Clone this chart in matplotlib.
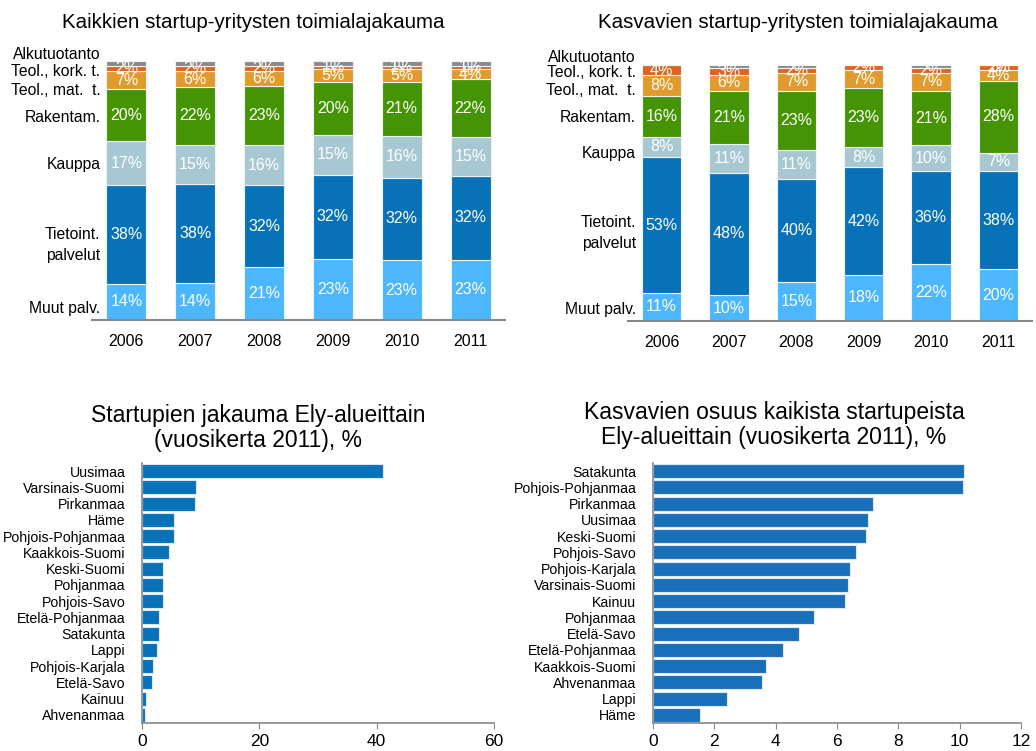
import numpy as np
import matplotlib
matplotlib.use("Agg")
import matplotlib.pyplot as plt

plt.rcParams['font.family'] = ['Liberation Sans', 'DejaVu Sans']

# --- data -------------------------------------------------------------
years = ['2006', '2007', '2008', '2009', '2010', '2011']
sectors = ['Muut palv.', 'Tietoint.\npalvelut', 'Kauppa', 'Rakentam.',
           'Teol., mat.  t.', 'Teol., kork. t.', 'Alkutuotanto']

# all startups (percent), bottom to top
all_muut = [14, 14, 21, 23, 23, 23]
all_tiet = [38, 38, 32, 32, 32, 32]
all_kaup = [17, 15, 16, 15, 16, 15]
all_rak = [20, 22, 23, 20, 21, 22]
all_mat = [7, 6, 6, 5, 5, 4]
all_kork = [2, 2, 2, 1, 1, 1]
all_alku = [2, 2, 2, 2, 2, 2]

# growing startups (percent)
gr_muut = [11, 10, 15, 18, 22, 20]
gr_tiet = [53, 48, 40, 42, 36, 38]
gr_kaup = [8, 11, 11, 8, 10, 7]
gr_rak = [16, 21, 23, 23, 21, 28]
gr_mat = [8, 6, 7, 7, 7, 4]
gr_kork = [4, 3, 2, 2, 2, 2]
gr_alku = [0, 1, 1, 0, 1, 0]

regions1 = ['Uusimaa', 'Varsinais-Suomi', 'Pirkanmaa', 'Häme', 'Pohjois-Pohjanmaa',
            'Kaakkois-Suomi', 'Keski-Suomi', 'Pohjanmaa', 'Pohjois-Savo',
            'Etelä-Pohjanmaa', 'Satakunta', 'Lappi', 'Pohjois-Karjala',
            'Etelä-Savo', 'Kainuu', 'Ahvenanmaa']
share1 = [41.0, 9.15, 8.98, 5.45, 5.5, 4.55, 3.64, 3.58, 3.52, 2.95, 2.9,
          2.56, 1.88, 1.76, 0.63, 0.46]

regions2 = ['Satakunta', 'Pohjois-Pohjanmaa', 'Pirkanmaa', 'Uusimaa', 'Keski-Suomi',
            'Pohjois-Savo', 'Pohjois-Karjala', 'Varsinais-Suomi', 'Kainuu',
            'Pohjanmaa', 'Etelä-Savo', 'Etelä-Pohjanmaa', 'Kaakkois-Suomi',
            'Ahvenanmaa', 'Lappi', 'Häme']
share2 = [10.15, 10.1, 7.18, 7.0, 6.93, 6.62, 6.43, 6.36, 6.25, 5.26, 4.75,
          4.23, 3.69, 3.56, 2.41, 1.53]

colors = ['#4cb7fc', '#0872b9', '#a7c8d3', '#459403', '#e09b2c', '#e0641e', '#8a8a8a']

W, H = 1036, 751
fig = plt.figure(figsize=(W / 100, H / 100), dpi=100)


def px_axes(x0, y0, x1, y1):
    # pixel box -> figure fraction
    return fig.add_axes([x0 / W, 1 - y1 / H, (x1 - x0) / W, (y1 - y0) / H])


def stacked(ax, series, label_pos):
    data = np.array(series, dtype=float)
    data = data / data.sum(axis=0) * 100  # 100% stacked
    x = np.arange(len(years))
    bottom = np.zeros(len(years))
    for i, row in enumerate(data):
        ax.bar(x, row, 0.58, bottom=bottom, color=colors[i],
               edgecolor='#eef3f5', linewidth=0.8)
        if i < 6:
            raw = series[i]
            for j in range(len(years)):
                if raw[j] > 0:
                    ax.text(x[j], bottom[j] + row[j] / 2, '%d%%' % raw[j],
                            ha='center', va='center', color='white', fontsize=11.5)
        bottom += row
    ax.set_xlim(-0.5, 5.5)
    ax.set_ylim(0, 100)
    ax.set_xticks(x)
    ax.set_xticklabels(years, fontsize=11.5)
    ax.tick_params(axis='x', length=0, pad=10)
    ax.set_yticks([])
    for s in ['top', 'right', 'left']:
        ax.spines[s].set_visible(False)
    ax.spines['bottom'].set_color('#888888')
    ax.spines['bottom'].set_linewidth(1.5)
    for name, yy in zip(sectors, label_pos):
        ax.text(-0.38, yy, name, ha='right', va='center', fontsize=11.3,
                linespacing=1.45, clip_on=False)


ax1 = px_axes(92, 61, 505, 320)
stacked(ax1, [all_muut, all_tiet, all_kaup, all_rak, all_mat, all_kork, all_alku],
        [4.6, 29, 60, 78, 88.5, 96, 102.5])

ax2 = px_axes(628, 65, 1032, 321)
stacked(ax2, [gr_muut, gr_tiet, gr_kaup, gr_rak, gr_mat, gr_kork, gr_alku],
        [4.3, 34.4, 65.6, 79.3, 90, 97, 102.8])

fig.text(253 / W, 1 - 23 / H, 'Kaikkien startup-yritysten toimialajakauma',
         ha='center', va='center', fontsize=14.8)
fig.text(798 / W, 1 - 23 / H, 'Kasvavien startup-yritysten toimialajakauma',
         ha='center', va='center', fontsize=14.8)


def hbars(ax, names, vals, color, xmax, step):
    y = np.arange(len(names))
    ax.barh(y, vals, 0.86, color=color, edgecolor='#dfe8f0', linewidth=0.8)
    ax.set_ylim(len(names) - 0.5, -0.5)
    ax.set_xlim(0, xmax)
    ax.set_yticks(y)
    ax.set_yticklabels(names, fontsize=10.2)
    ax.tick_params(axis='y', length=0, pad=12)
    ax.set_xticks(np.arange(0, xmax + 0.01, step))
    ax.tick_params(axis='x', length=4, color='#888888', labelsize=12.5, pad=4,
                   direction='out')
    for s in ['top', 'right']:
        ax.spines[s].set_visible(False)
    for s in ['left', 'bottom']:
        ax.spines[s].set_color('#888888')
        ax.spines[s].set_linewidth(1.2)


ax3 = px_axes(142, 463, 494, 723)
hbars(ax3, regions1, share1, '#0672b9', 60, 20)
ax4 = px_axes(653, 463, 1021, 723)
hbars(ax4, regions2, share2, '#1a6fba', 12, 2)

fig.text(258 / W, 1 - 428 / H, 'Startupien jakauma Ely-alueittain\n(vuosikerta 2011), %',
         ha='center', va='center', fontsize=16.5, linespacing=1.15)
fig.text(774 / W, 1 - 425 / H, 'Kasvavien osuus kaikista startupeista\nEly-alueittain (vuosikerta 2011), %',
         ha='center', va='center', fontsize=16.5, linespacing=1.15)

fig.savefig('out.png', dpi=100)
